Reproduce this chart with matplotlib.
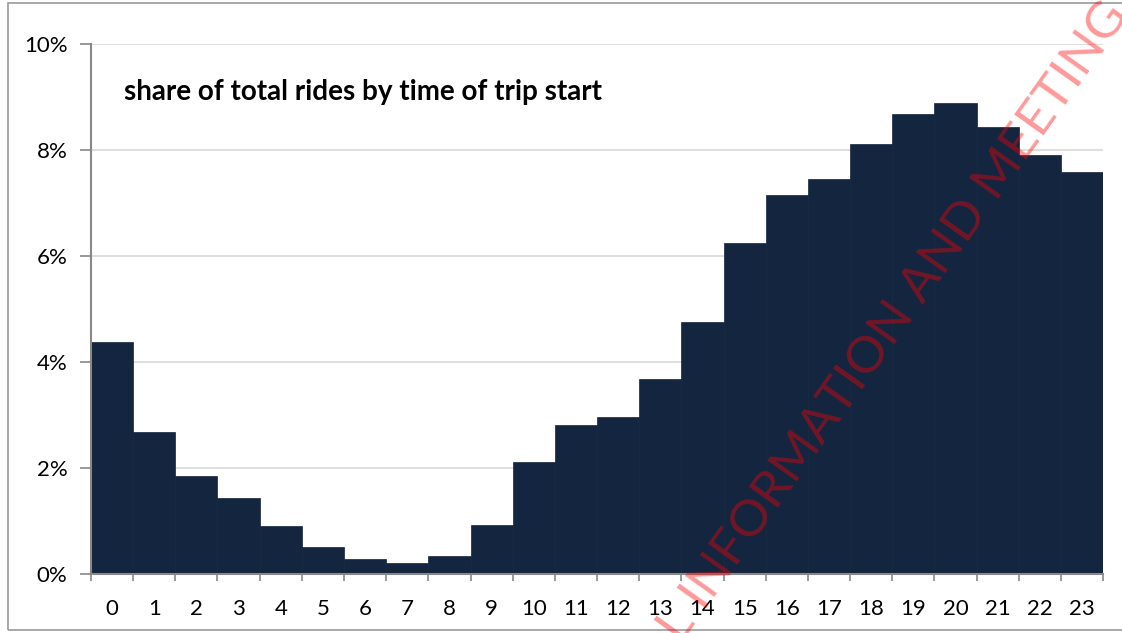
import matplotlib.pyplot as plt
from matplotlib.patches import Rectangle
from matplotlib.ticker import FixedLocator, PercentFormatter

# share of total rides by hour of trip start (%)
hours = list(range(24))
share = [4.38, 2.68, 1.85, 1.43, 0.91, 0.51, 0.28, 0.21, 0.34, 0.92,
         2.11, 2.81, 2.96, 3.68, 4.75, 6.25, 7.15, 7.45, 8.11, 8.68,
         8.89, 8.43, 7.91, 7.58]
y_ticks = [0, 2, 4, 6, 8, 10]
title = "share of total rides by time of trip start"

plt.rcParams['font.family'] = ['Lato', 'DejaVu Sans']

fig = plt.figure(figsize=(11.22, 6.33), dpi=100)
ax = fig.add_axes([0.0811, 0.0932, 0.902, 0.8373])

ax.bar(hours, share, width=1.0, color='#13253f', edgecolor='#13253f',
       linewidth=0.5, zorder=2)

ax.set_xlim(-0.5, 23.5)
ax.set_ylim(0, 10)
ax.set_yticks(y_ticks)
ax.yaxis.set_major_formatter(PercentFormatter(decimals=0))
ax.yaxis.grid(True, color='#d9d9d9', linewidth=1.2, zorder=0)

# ticks on category boundaries, labels at centres
ax.xaxis.set_major_locator(FixedLocator([h - 0.5 for h in hours] + [23.5]))
ax.xaxis.set_minor_locator(FixedLocator(hours))
ax.set_xticklabels([])
ax.set_xticklabels([str(h) for h in hours], minor=True)
ax.tick_params(axis='x', which='major', length=5, width=1.2, color='#888888')
ax.tick_params(axis='x', which='minor', length=0, pad=18, labelsize=16)
ax.tick_params(axis='y', length=8, width=1.2, color='#888888', labelsize=16, pad=9)

for s in ['top', 'right']:
    ax.spines[s].set_visible(False)
for s in ['left', 'bottom']:
    ax.spines[s].set_color('#888888')
    ax.spines[s].set_linewidth(1.5)

ax.text(0.033, 0.909, title, transform=ax.transAxes, fontsize=20,
        fontweight='bold', va='center', ha='left')

# outer frame
fig.patches.append(Rectangle((8 / 1122, 3 / 633), 1.2, 1 - 6 / 633,
                             transform=fig.transFigure, fill=False,
                             edgecolor='#9a9a9a', linewidth=1.2))

# watermark
wm = dict(rotation=54.5, rotation_mode='anchor', fontsize=37,
          fontweight='normal', color='red', alpha=0.4, va='baseline',
          zorder=10)
fig.text(704 / 1122, 1 - 612 / 633, "INFORMATION AND MEETING PURPOSES",
         ha='left', **wm)
fig.text(704 / 1122, 1 - 612 / 633, "CONFIDENTIAL ", ha='right', **wm)

fig.savefig('out.png', dpi=100)
